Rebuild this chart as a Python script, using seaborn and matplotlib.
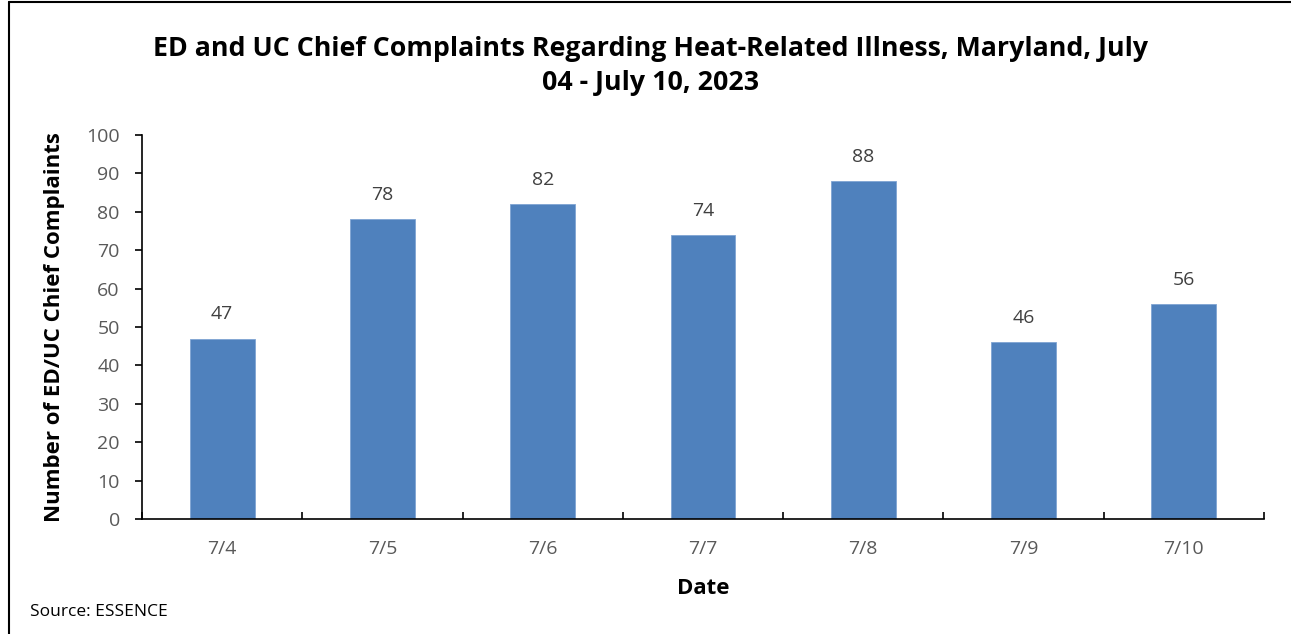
import matplotlib
matplotlib.use("Agg")
import matplotlib.pyplot as plt
import seaborn as sns
import pandas as pd
from matplotlib.lines import Line2D

dates = ["7/4", "7/5", "7/6", "7/7", "7/8", "7/9", "7/10"]
counts = [47, 78, 82, 74, 88, 46, 56]
y_ticks = [0, 10, 20, 30, 40, 50, 60, 70, 80, 90, 100]

sns.set_style("white")
plt.rcParams['font.family'] = ['Open Sans', 'DejaVu Sans']

df = pd.DataFrame({"Date": dates, "Count": counts})

fig = plt.figure(figsize=(12.91, 6.34), dpi=100)
ax = fig.add_axes([142/1291, 1 - 519/634, (1264-142)/1291, (519-135)/634])

sns.barplot(data=df, x="Date", y="Count", color="#4F81BD", width=0.405,
            saturation=1, ax=ax, edgecolor="#7FA4D3", linewidth=0.6)

ax.set_ylim(0, 100)
ax.set_xlim(-0.5, len(dates) - 0.5)
ax.set_yticks(y_ticks)
ax.tick_params(axis='y', direction='out', length=5, width=1.2, color='black',
               labelsize=14, labelcolor='#595959', pad=11, left=True)
ax.tick_params(axis='x', which='major', length=0, labelsize=14,
               labelcolor='#595959', pad=15)
ax.set_xticks([i - 0.5 for i in range(len(dates) + 1)], minor=True)
ax.tick_params(axis='x', which='minor', direction='in', length=5, width=1.2,
               color='black', bottom=True)

for s in ['top', 'right']:
    ax.spines[s].set_visible(False)
for s in ['left', 'bottom']:
    ax.spines[s].set_color('black')
    ax.spines[s].set_linewidth(1.2)

for i, v in enumerate(counts):
    ax.annotate(str(v), (i, v), xytext=(0, 11), textcoords='offset points',
                ha='center', va='bottom', fontsize=14, color='#404040')

ax.set_xlabel("Date", fontsize=16, fontweight='bold', color='black', va='center')
ax.xaxis.set_label_coords(0.5, (519 - 589) / 384)
ax.set_ylabel("Number of ED/UC Chief Complaints", fontsize=16, fontweight='bold',
              color='black', va='center')
ax.yaxis.set_label_coords((55 - 142) / 1122, 0.5)

fig.text(651/1291, 1 - 66/634,
         "ED and UC Chief Complaints Regarding Heat-Related Illness, Maryland, July\n04 - July 10, 2023",
         ha='center', va='center', fontsize=19.3, fontweight='bold', color='black',
         linespacing=1.45)
fig.text(30/1291, 1 - 612/634, "Source: ESSENCE", ha='left', va='center',
         fontsize=12.5, color='black')

# chart border (left and top)
fig.add_artist(Line2D([9/1291, 9/1291], [0, 1 - 2/634], transform=fig.transFigure,
                      color='black', linewidth=1.5))
fig.add_artist(Line2D([9/1291, 1], [1 - 2/634, 1 - 2/634], transform=fig.transFigure,
                      color='black', linewidth=1.5))

fig.savefig("out.png", dpi=100)
